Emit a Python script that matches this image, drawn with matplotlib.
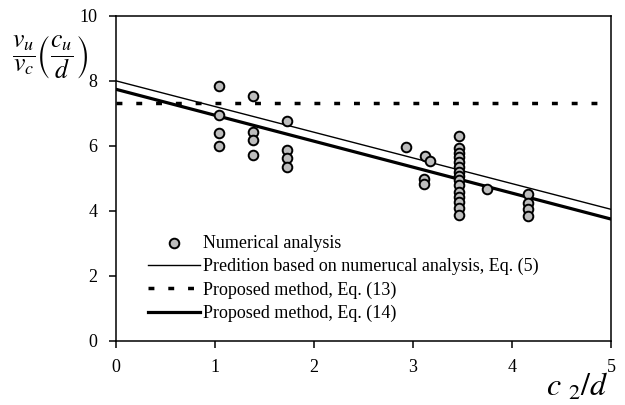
import matplotlib
matplotlib.use("Agg")
import matplotlib.pyplot as plt
import numpy as np

plt.rcParams['font.family'] = ['Liberation Serif', 'DejaVu Serif']
plt.rcParams['mathtext.fontset'] = 'stix'

# numerical analysis points (c2/d, normalised strength)
num_x = [1.04, 1.04, 1.04, 1.04,
         1.39, 1.39, 1.39, 1.39,
         1.73, 1.73, 1.73, 1.73,
         2.93, 3.12, 3.17, 3.11, 3.11,
         3.46, 3.46, 3.46, 3.46, 3.46, 3.46, 3.46, 3.46,
         3.46, 3.46, 3.46, 3.46, 3.46, 3.46, 3.46,
         3.75,
         4.16, 4.16, 4.16, 4.16]
num_y = [7.85, 6.94, 6.38, 5.99,
         7.54, 6.41, 6.17, 5.71,
         6.77, 5.87, 5.63, 5.34,
         5.97, 5.69, 5.53, 4.97, 4.81,
         6.31, 5.92, 5.77, 5.64, 5.51, 5.35, 5.20, 5.07,
         4.94, 4.79, 4.58, 4.43, 4.28, 4.07, 3.87,
         4.66,
         4.51, 4.25, 4.05, 3.84]

# lines
line_x = [0, 5]
pred_y = [8.00, 4.04]      # Eq. (5)
eq13_y = [7.30, 7.30]      # Eq. (13)
eq14_y = [7.74, 3.74]      # Eq. (14)

fig = plt.figure(figsize=(6.25, 4.05), dpi=100)
ax = fig.add_axes([0.185, 0.159, 0.793, 0.802])

ax.scatter(num_x, num_y, s=48, facecolor='#bdbdbd', edgecolor='black',
           linewidth=1.4, zorder=3, label='Numerical analysis')
ax.plot(line_x, pred_y, color='black', lw=1.0,
        label='Predition based on numerucal analysis, Eq. (5)')
ax.plot(line_x, eq13_y, color='black', lw=2.5, dashes=(1.7, 4.0),
        label='Proposed method, Eq. (13)')
ax.plot(line_x, eq14_y, color='black', lw=2.3,
        label='Proposed method, Eq. (14)')

ax.set_xlim(0, 5)
ax.set_ylim(0, 10)
ax.set_xticks([0, 1, 2, 3, 4, 5])
ax.set_yticks([0, 2, 4, 6, 8, 10])
ax.tick_params(direction='out', length=5, width=1.1, labelsize=13, pad=8)
for s in ax.spines.values():
    s.set_linewidth(1.1)

leg = ax.legend(loc='lower left', bbox_to_anchor=(0.05, 0.035), frameon=False,
                fontsize=13, handlelength=2.9, handletextpad=0.15,
                labelspacing=0.34, borderaxespad=0)

fig.text(0.02, 0.85, r"$\dfrac{v_u}{v_c}\left(\dfrac{c_u}{d}\right)$", fontsize=18.5)
fig.text(0.874, 0.022, r"$c\ {}_{2}/d$", fontsize=23)

fig.savefig("out.png", dpi=100)
